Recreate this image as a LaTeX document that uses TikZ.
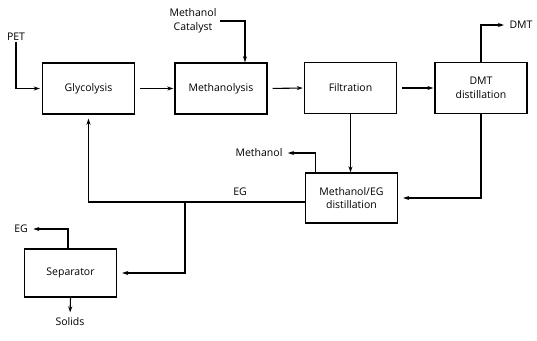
\documentclass[tikz,border=0pt]{standalone}
\usepackage{fontspec}
\setmainfont{Open Sans}
\usetikzlibrary{arrows.meta,calc}
\begin{document}
\begin{tikzpicture}[x=1pt,y=-1pt, line width=1.1pt,
 box/.style={draw, line width=1.4pt, minimum width=92pt, minimum height=51pt, align=center,
   font=\fontsize{10.5}{13.5}\selectfont, inner sep=0pt},
 flow/.style={-{Stealth[length=6pt,width=4pt]}},
 lbl/.style={font=\fontsize{10.5}{13.5}\selectfont, inner sep=1pt, align=center}]
\useasboundingbox (0,0) rectangle (537,340);
\node[box] (gly) at (88.5,88.5) {Glycolysis};
\node[box] (meth) at (221,88.5) {Methanolysis};
\node[box] (filt) at (350.5,88) {Filtration};
\node[box] (dmt) at (481,88) {DMT\\distillation};
\node[box, minimum height=50pt] (meg) at (351.5,198) {Methanol/EG\\distillation};
\node[box, minimum height=48pt] (sep) at (70.5,273) {Separator};
\node[lbl] (pet) at (16,37) {PET};
\node[lbl] (mc) at (193,21) {Methanol\\Catalyst};
\node[lbl] (dmtout) at (521,25) {DMT};
\node[lbl] (mout) at (259,153) {Methanol};
\node[lbl] (eg1) at (240,192) {EG};
\node[lbl] (eg2) at (21,229) {EG};
\node[lbl] (sol) at (70,322) {Solids};
\coordinate (j) at (185,202);
\draw[flow, shorten >=2pt] (pet.south) |- (gly.west);
\draw[flow, shorten <=5pt, shorten >=1pt] (gly.east) -- (meth.west);
\draw[flow, shorten <=5pt, shorten >=1pt] (meth.east) -- (filt.west);
\draw[flow, shorten <=5pt, shorten >=1pt] (filt.east) -- (dmt.west);
\draw[flow, shorten <=2pt] (mc.east) -| ($(meth.north)+(24,0)$);
\draw[flow, shorten >=4pt] (dmt.north) |- (dmtout.west);
\draw[flow] (filt.south) -- (filt.south |- meg.north);
\draw[flow, shorten >=5pt] (dmt.south) |- (meg.east);
\draw[flow, shorten >=4pt] ($(meg.north west)+(11,0)$) |- (mout.east);
\draw[flow, shorten >=4pt] ($(meg.west)+(0,4)$) -| (gly.south);
\draw[flow, shorten >=5pt] (j) |- (sep.east);
\draw[flow, shorten >=4pt] ($(sep.north)+(-2.5,0)$) |- (eg2.east);
\draw[flow, shorten >=4pt] (sep.south) -- (sol.north);
\end{tikzpicture}
\end{document}
